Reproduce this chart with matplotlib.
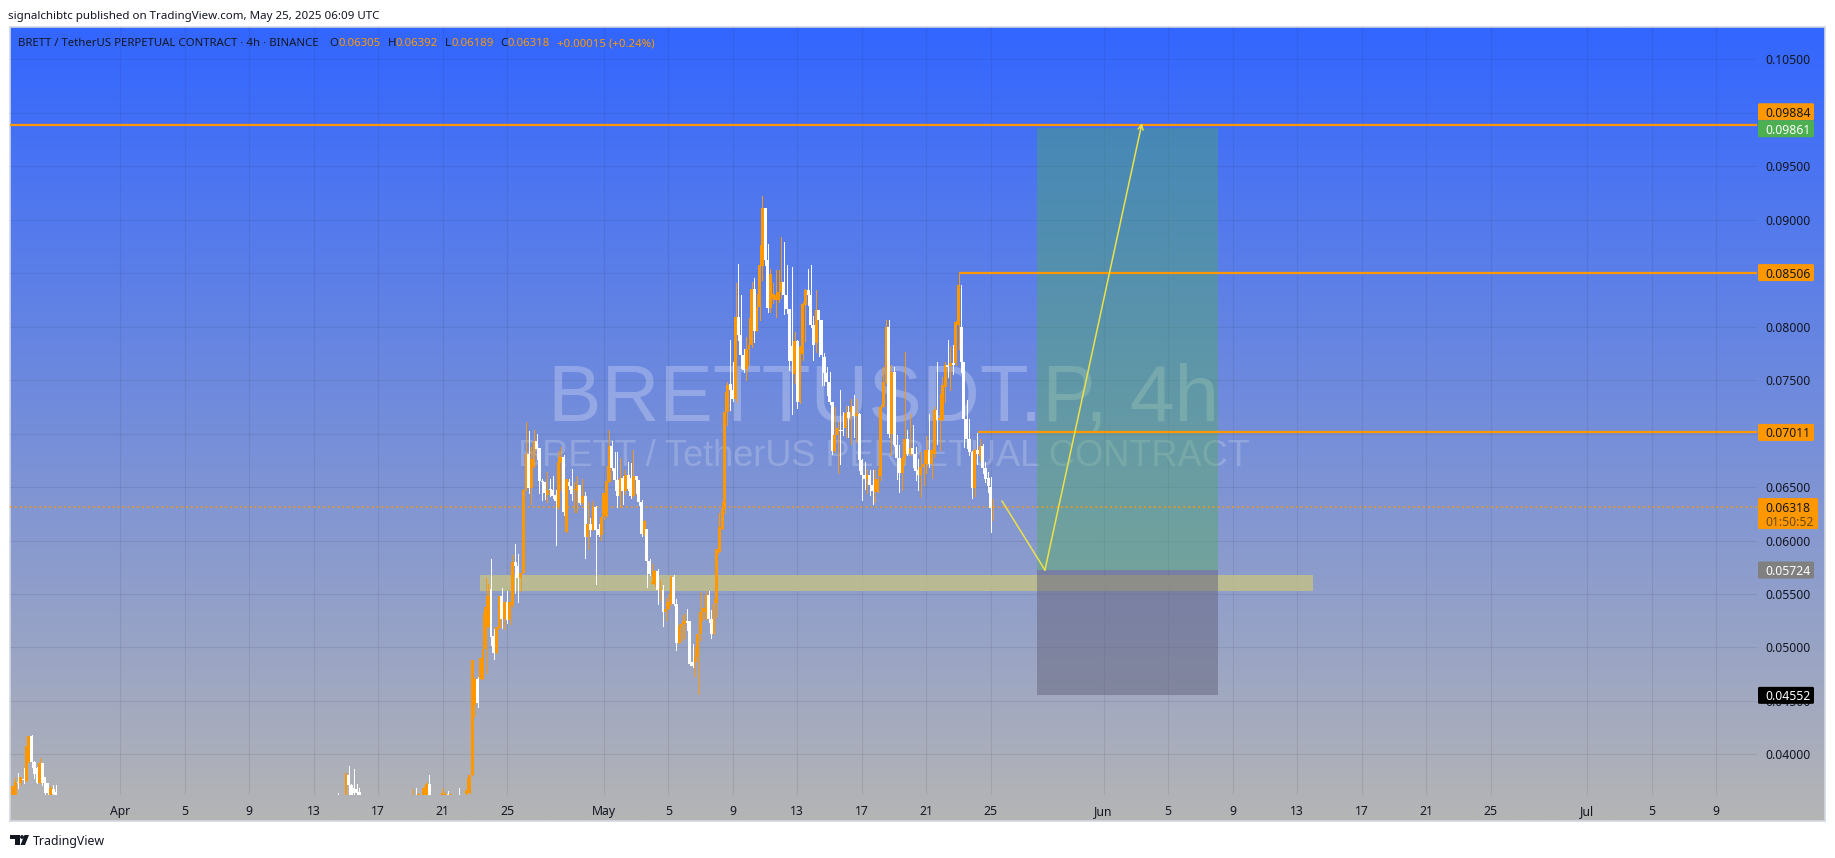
import numpy as np
import matplotlib
matplotlib.use('Agg')
import matplotlib.pyplot as plt
from matplotlib.colors import LinearSegmentedColormap
from matplotlib.patches import FancyBboxPatch, Polygon, Circle

plt.rcParams['font.family'] = ['Noto Sans', 'DejaVu Sans']

W, H = 1835, 858
# plot area in pixels from the top left corner
LEFT, RIGHT, TOP, BOTTOM = 10, 1757, 27, 795

# candles, newest first, price * 1e5. index = bars back from the last one
main_open = [6305,6502,6586,6683,6882,6795,6851,6496,6829,6954,7141,7671,7999,8014,7656,7662,7637,7640,7437,7132,
             7126,7225,6814,6720,6851,6714,6689,6611,6658,6814,6870,6814,6945,6758,6633,6776,6892,7578,7001,7999,
             7484,7250,6602,6455,6455,6518,6617,6571,6611,6751,7188,7163,7257,7204,7204,7048,7038,7038,6985,6839,
             7297,7484,7568,7718,8061,8155,7849,8020,8301,8342,8201,7749,7297,7868,7553,7818,8161,8295,8416,8326,
             8254,8254,8257,8173,8622,9106,8566,8186,7961,8351,7827,7796,7600,7734,7921,8092,7328,7406,7462,7204,
             6299,6112,5894,5417,5130,5270,5489,5270,5333,5130,4912,4865,4865,5245,5245,5217,5192,5043,5404,5660,
             5404,5364,5330,5535,5535,5713,5595,5595,5810,6106,6065,6362,6564,6602,6415,6589,6611,6465,6589,6415,
             6564,6683,6882,6549,6228,6221,6050,6106,6315,6103,6159,6034,6415,6352,6518,6465,6471,6514,6549,6081,
             6783,6736,6315,6424,6477,6477,6424,6543,6555,6861,6929,6689,6496,6814,6471,5699,5653,5762,5802,5397,
             5257,5422,5266,5484,5179,4951,5107,5547,5194,4985,4702,4702,4702,4461,3807,3635,3626]
main_high = [6392,6596,6642,6736,6907,6945,7010,6860,6839,7141,7313,7671,8388,8513,8055,7827,7812,7874,7671,7531,
             7375,7671,7250,6860,7188,6976,6845,6829,6767,6876,7079,7188,7032,7765,6783,6892,6985,7624,7640,8067,
             8061,7624,7266,6673,6658,6658,6658,6673,6736,6767,7194,7328,7359,7328,7257,7257,7204,7406,7110,7250,
             7297,7578,7624,7755,8067,8155,8342,8098,8575,8535,8357,8233,7818,7874,7952,8560,8161,8575,8794,8841,
             8529,8529,8404,8535,8778,9106,9221,8763,8310,8460,8420,8077,7899,7787,8295,8591,8404,7671,7880,7484,
             7388,6362,6253,5925,5457,5348,5526,5526,5373,5520,5130,5005,5030,5245,5355,5317,5302,5217,5451,5676,
             5666,5498,5467,5582,5635,5732,5725,5782,5829,6112,6190,6377,6564,6602,6845,6726,6736,6664,6602,6773,
             6829,6829,6932,7032,6695,6440,6221,6159,6321,6368,6215,6362,6455,6571,6518,6608,6549,6673,6580,6580,
             6798,6876,6839,6471,6602,6571,6639,6543,6571,6861,7001,7032,6876,7023,7110,6486,5699,5874,5967,5865,
             5422,5528,5422,5559,5484,5188,5172,5827,5593,5646,5319,4898,4720,4726,4882,3807,3776]
main_low = [6189,6081,6455,6549,6627,6751,6720,6415,6402,6798,6861,6876,7578,7796,7640,7562,7406,7531,7297,7126,
            6845,6907,6783,6589,6689,6627,6518,6408,6471,6564,6689,6798,6798,6720,6471,6455,6580,6882,6798,6970,
            7469,7250,6564,6455,6362,6346,6424,6440,6486,6377,6658,6923,6970,6907,6970,6970,6985,6720,6633,6829,
            6808,7275,7359,7453,7453,7724,7765,7687,7999,8201,7858,7687,7288,7235,7475,7188,7593,8130,8123,8264,
            8232,8092,8217,8139,8139,8575,8435,8067,7961,7858,7812,7640,7500,7578,7609,7880,7297,7306,7219,7079,
            6253,6112,5885,5286,5130,5086,5239,5270,5255,5074,4569,4731,4818,4834,5161,5093,5068,5037,4974,5395,
            5395,5355,5255,5199,5442,5404,5573,5595,5673,5567,6050,6041,6331,6440,6408,6402,6477,6434,6346,6315,
            6315,6477,6658,6549,6221,6206,6009,6041,5598,6097,6041,5925,5838,6346,6346,6268,6268,6377,6486,6081,
            6237,6471,6299,5956,6402,6415,6362,6384,6377,6440,6758,6689,6340,6446,6471,5693,5528,5428,5506,5381,
            5219,5232,5172,5185,5172,4945,4892,5023,5194,4764,4702,4702,4440,4362,3807,3635,3626]
main_close = [6318,6305,6508,6580,6683,6882,6808,6845,6496,6829,6954,7141,7671,8388,8045,7643,7656,7624,7640,7453,
              7150,7132,7225,6851,6720,6851,6720,6689,6611,6652,6814,6870,6814,6945,6758,6633,6776,6892,7578,7001,
              7999,7484,7250,6580,6571,6461,6518,6617,6571,6611,6751,7194,7163,7250,7150,7197,7026,7026,7048,6985,
              6839,7297,7484,7568,7734,8061,8155,7827,8014,8301,8342,8211,7812,7297,7868,7677,7681,8161,8295,8416,
              8326,8301,8310,8491,8173,8622,9106,8575,8186,7961,8351,7827,7796,7593,7734,7921,8092,7328,7406,7453,
              7204,6299,6122,5919,5411,5124,5270,5489,5373,5333,5130,4912,4825,4849,5230,5245,5217,5192,5043,5404,
              5660,5426,5364,5330,5544,5535,5719,5611,5685,5810,6184,6065,6362,6564,6602,6415,6486,6611,6465,6589,
              6415,6564,6683,6882,6555,6440,6221,6050,6103,6315,6097,6159,6034,6415,6352,6518,6480,6433,6514,6580,
              6268,6783,6736,6371,6415,6471,6477,6440,6543,6555,6854,6929,6758,6496,6814,6471,5699,5649,5762,5802,
              5422,5257,5422,5266,5484,5188,4951,5101,5484,5381,4985,4898,4477,4702,4882,3807,3666]

# small clusters that just reach above the bottom of the chart
low_back = [199,202,203,204,205,210,211,212,214,215,216,236,237,238,239,240,241,244,
            349,350,351,352,353,354,355,356,357,358,359,360,361,362,363,364,365]
low_open = [3615,3605,3630,3605,3605,3722,3605,3605,3605,3615,3605,3651,3673,3682,3713,3807,3605,3615,
            3651,3673,3605,3729,3785,3916,3729,3869,3931,4175,3931,3754,3766,3729,3744,3605,3605]
low_high = [3682,3632,3660,3651,3682,3807,3744,3695,3635,3688,3673,3682,3719,3863,3722,3891,3829,3635,
            3713,3713,3707,3729,3785,3922,3969,3885,3941,4181,4175,4081,3875,3785,3829,3782,3707]
low_low = [3600,3600,3600,3600,3600,3600,3600,3600,3600,3600,3600,3600,3600,3620,3600,3600,3600,3600,
           3600,3600,3600,3620,3620,3713,3729,3729,3776,3885,3931,3754,3729,3713,3688,3600,3600]
low_close = [3605,3625,3610,3625,3635,3605,3722,3682,3625,3605,3620,3605,3635,3641,3605,3713,3822,3605,
             3605,3629,3682,3641,3641,3729,3916,3729,3816,3931,4175,4081,3757,3785,3729,3744,3707]

# days counted from Apr 1
LAST_BAR_DAY = 54 + 4 / 24
tick_days = [0, 4, 8, 12, 16, 20, 24, 30, 34, 38, 42, 46, 50, 54, 61, 65, 69, 73, 77, 81, 85, 91, 95, 99]
tick_names = ['Apr', '5', '9', '13', '17', '21', '25', 'May', '5', '9', '13', '17', '21', '25',
              'Jun', '5', '9', '13', '17', '21', '25', 'Jul', '5', '9']
price_ticks = [0.04, 0.045, 0.05, 0.055, 0.06, 0.065, 0.07, 0.075, 0.08, 0.085, 0.09, 0.095, 0.1, 0.105]

resistance_prices = [0.09884, 0.08506, 0.07011]
resistance_start_days = [-6.84, 52.0, 53.2]
last_price = 0.06318
zone_low, zone_high = 0.05527, 0.05677
zone_days = (22.3, 74.0)
position_days = (56.85, 68.1)
entry_price, target_price, stop_price = 0.05724, 0.09861, 0.04552
path_days = [54.7, 57.36, 63.38]
path_prices = [0.06369, 0.05724, 0.09905]

ORANGE = '#ff9800'
TEXT = '#131722'


def fx(x):
    return x / W


def fy(y):
    return 1 - y / H


fig = plt.figure(figsize=(W / 100, H / 100), dpi=100, facecolor='white')

# gradient background, also under the two scales
bg = fig.add_axes([fx(10), fy(821), (1825 - 10) / W, (821 - 27) / H], zorder=0)
cmap = LinearSegmentedColormap.from_list('tv', ['#3366ff', '#b5b5b5'])
bg.imshow(np.linspace(0, 1, 400).reshape(-1, 1), aspect='auto', cmap=cmap)
bg.set_xticks([])
bg.set_yticks([])
for s in bg.spines.values():
    s.set_color('#d3d8e2')
    s.set_linewidth(1.2)

ax = fig.add_axes([fx(LEFT), fy(BOTTOM), (RIGHT - LEFT) / W, (BOTTOM - TOP) / H], zorder=1)
ax.patch.set_alpha(0)
ax.set_xlim(-6.84, 101.53)
ax.set_ylim(0.0362, 0.10803)
for s in ax.spines.values():
    s.set_visible(False)

ax.set_xticks(tick_days)
ax.set_xticklabels(tick_names)
ax.set_yticks(price_ticks)
ax.set_yticklabels(['%.5f' % p for p in price_ticks])
ax.yaxis.tick_right()
ax.tick_params(axis='x', length=0, pad=7, labelsize=8.8, labelcolor=TEXT)
ax.tick_params(axis='y', length=0, pad=6, labelsize=8.8, labelcolor=TEXT)
ax.set_axisbelow(True)
ax.grid(True, color='#2a2e39', alpha=0.1, linewidth=0.8)

# watermark
ax.text(fx(884), fy(421), 'BRETTUSDT.P, 4h', transform=fig.transFigure, ha='center', va='baseline',
        fontsize=57.7, family='Liberation Sans', color='white', alpha=0.25, zorder=1)
ax.text(fx(884), fy(466), 'BRETT / TetherUS PERPETUAL CONTRACT', transform=fig.transFigure, ha='center',
        va='baseline', fontsize=26, family='Liberation Sans', color='white', alpha=0.2, zorder=1)

# drawings
ax.fill_between(zone_days, zone_low, zone_high, color='#bdbc90', alpha=0.92, linewidth=0, zorder=1.5)
ax.fill_between(position_days, entry_price, target_price, color='#4caf50', alpha=0.38, linewidth=0, zorder=1.6)
ax.fill_between(position_days, stop_price, entry_price, color='#64647d', alpha=0.5, linewidth=0, zorder=1.6)

for price, start in zip(resistance_prices, resistance_start_days):
    ax.plot([start, 101.53], [price, price], color=ORANGE, lw=1.6, solid_capstyle='butt', zorder=3)
ax.plot([-6.84, 101.53], [last_price, last_price], color=ORANGE, lw=1.1, ls=(0, (1.2, 2)), zorder=3)

# candles, oldest first so that newer ones lie on top
back = np.array(list(range(len(main_open))) + low_back)
days = LAST_BAR_DAY - back / 6
opens = np.array(main_open + low_open) / 1e5
highs = np.array(main_high + low_high) / 1e5
lows = np.array(main_low + low_low) / 1e5
closes = np.array(main_close + low_close) / 1e5
for i in np.argsort(-back):
    col = ORANGE if closes[i] >= opens[i] else 'white'
    ax.vlines(days[i], lows[i], highs[i], color=col, lw=0.72, zorder=4, antialiased=False)
    body = max(abs(closes[i] - opens[i]), 0.00012)
    ax.bar(days[i], body, bottom=min(opens[i], closes[i]), width=0.18, color=col,
           linewidth=0, zorder=4, antialiased=False)

ax.plot(path_days[:2], path_prices[:2], color='#ebe14a', lw=1.1, zorder=5)
ax.annotate('', xy=(path_days[2], path_prices[2]), xytext=(path_days[1], path_prices[1]),
            arrowprops=dict(arrowstyle='->', color='#ebe14a', lw=1.1, mutation_scale=9, shrinkA=0, shrinkB=0),
            zorder=5)

# overlay in pixels for the price labels, legend and footer
ov = fig.add_axes([0, 0, 1, 1], zorder=2)
ov.set_xlim(0, W)
ov.set_ylim(H, 0)
ov.axis('off')


def price_y(price):
    return H - ax.transData.transform((0, price))[1]


def price_box(text, y, color, text_color, width=56, height=17):
    ov.add_patch(FancyBboxPatch((1758.5, y - height / 2 + 0.5), width - 1, height - 1,
                                boxstyle='round,pad=0.5,rounding_size=1.5', fc=color, ec='none'))
    ov.text(1765.5, y, text, ha='left', va='center_baseline', fontsize=8.8, color=text_color)


price_box('0.09884', price_y(0.09884) - 13.5, ORANGE, TEXT)
price_box('0.09861', price_y(0.09884) + 3.5, '#4caf50', 'white')
price_box('0.08506', price_y(0.08506), ORANGE, TEXT)
price_box('0.07011', price_y(0.07011), ORANGE, TEXT)
price_box('0.05724', price_y(0.05724), '#808080', 'white')
price_box('0.04552', price_y(0.04552), 'black', 'white')

y_last = price_y(last_price)
ov.add_patch(FancyBboxPatch((1758.5, y_last - 8), 59, 30, boxstyle='round,pad=0.5,rounding_size=1.5',
                            fc=ORANGE, ec='none'))
ov.text(1765.5, y_last, '0.06318', ha='left', va='center_baseline', fontsize=8.8, color=TEXT)
ov.text(1765.5, y_last + 14, '01:50:52', ha='left', va='center_baseline', fontsize=8.8, color='#6b4a10')

# header and legend
ov.text(8, 15, 'signalchibtc published on TradingView.com, May 25, 2025 06:09 UTC', ha='left',
        va='center_baseline', fontsize=8.3, color=TEXT)
ov.text(18, 42, 'BRETT / TetherUS PERPETUAL CONTRACT \u00b7 4h \u00b7 BINANCE', ha='left',
        va='center_baseline', fontsize=8.2, color=TEXT)
legend_names = [('O', 329.5), ('H', 387.5), ('L', 445), ('C', 500)]
legend_values = [('0.06305', 338), ('0.06392', 395), ('0.06189', 451), ('0.06318', 507.5), ('+0.00015 (+0.24%)', 557)]
for name, x in legend_names:
    ov.text(x, 42, name, ha='left', va='center_baseline', fontsize=8.2, color=TEXT)
for value, x in legend_values:
    ov.text(x, 42, value, ha='left', va='center_baseline', fontsize=8.2, color=ORANGE)

# footer logo
ov.add_patch(Polygon([(10, 835), (19.5, 835), (19.5, 845), (14.5, 845), (14.5, 839), (10, 839)], fc=TEXT, ec='none'))
ov.add_patch(Circle((22, 837), 1.9, fc=TEXT, ec='none'))
ov.add_patch(Polygon([(24.5, 835), (29, 835), (25, 845), (20.5, 845)], fc=TEXT, ec='none'))
ov.text(33, 840, 'TradingView', ha='left', va='center_baseline', fontsize=8.9, color=TEXT)

fig.savefig('out.png', dpi=100)
